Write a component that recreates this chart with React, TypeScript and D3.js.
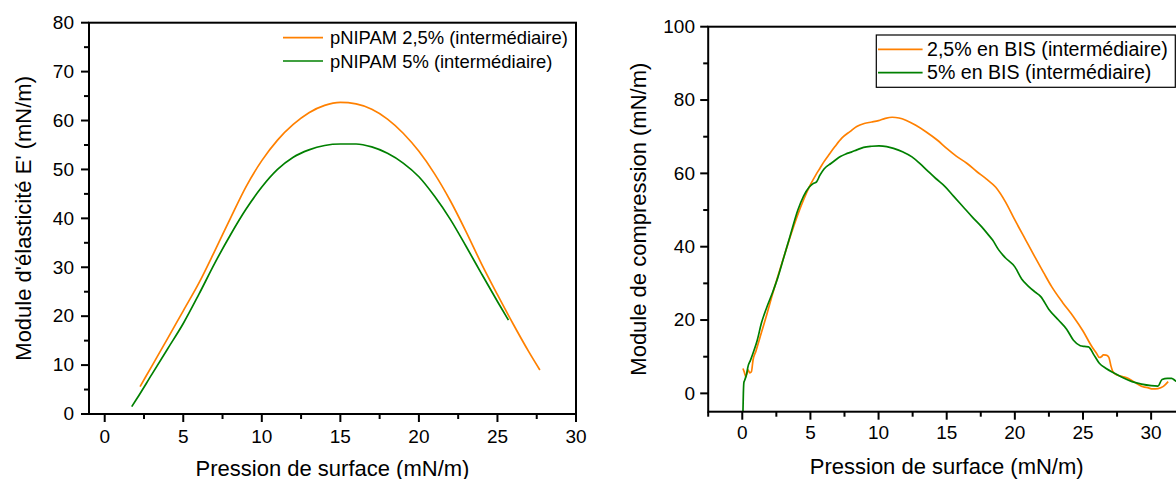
import React from "react";
import * as d3 from "d3";

// ---------- Data ----------
const leftLegend = ["pNIPAM 2,5% (intermédiaire)", "pNIPAM 5% (intermédiaire)"];
const rightLegend = ["2,5% en BIS (intermédiaire)", "5% en BIS (intermédiaire)"];

const leftXTicks = [0, 5, 10, 15, 20, 25, 30];
const leftYTicks = [0, 10, 20, 30, 40, 50, 60, 70, 80];
const rightXTicks = [0, 5, 10, 15, 20, 25, 30];
const rightYTicks = [0, 20, 40, 60, 80, 100];

// Left chart: elasticity modulus vs surface pressure
const leftOrange: [number, number][] = [
  [2.25, 5.6], [3, 9.8], [4, 15.4], [5, 21.1], [6, 26.8], [7, 33.3], [8, 40.0],
  [9, 46.5], [10, 51.8], [11, 56.0], [12, 59.2], [13, 61.6], [14, 63.1], [15, 63.7],
  [16, 63.4], [17, 62.3], [18, 60.3], [19, 57.4], [20, 53.7], [21, 49.1], [22, 43.6],
  [23, 37.3], [24, 30.6], [25, 24.4], [26, 18.4], [27, 12.7], [27.7, 9.0],
];
const leftGreen: [number, number][] = [
  [1.72, 1.5], [2, 2.9], [3, 8.1], [4, 13.3], [5, 18.5], [6, 24.5], [7, 30.8],
  [8, 36.6], [9, 41.9], [10, 46.4], [11, 50.0], [12, 52.5], [13, 54.0], [14, 54.9],
  [15, 55.2], [16, 55.2], [17, 54.6], [18, 53.3], [19, 51.3], [20, 48.5], [21, 44.5],
  [22, 39.8], [23, 34.3], [24, 28.6], [25, 23.0], [25.7, 19.2],
];

// Right chart: compression modulus vs surface pressure
const rightOrange: [number, number][] = [
  [0.05, 6.8], [0.15, 5.8], [0.26, 4.5], [0.42, 6.4], [0.55, 5.6], [0.67, 5.9],
  [0.79, 9.1], [1.0, 11.5], [1.4, 16.5], [1.8, 21.5], [2.2, 26.8], [2.6, 31.8],
  [3.1, 37.8], [3.5, 42.5], [4.0, 48.0], [4.5, 52.8], [5.0, 56.9], [5.4, 59.6],
  [5.7, 61.4], [6.0, 63.2], [6.4, 65.3], [6.8, 67.3], [7.3, 69.6], [7.9, 71.4],
  [8.4, 72.8], [8.95, 73.6], [9.5, 74.0], [10.0, 74.4], [10.5, 75.0], [11.0, 75.3],
  [11.5, 75.1], [12.0, 74.5], [12.7, 73.2], [13.5, 71.3], [14.3, 69.1], [15.0, 66.8],
  [15.7, 64.7], [16.5, 62.7], [17.2, 60.5], [17.9, 58.5], [18.6, 56.2], [19.3, 52.3],
  [20.0, 47.3], [20.8, 41.8], [21.5, 37.0], [22.1, 33.0], [22.7, 29.1], [23.5, 24.8],
  [24.3, 20.9], [25.0, 17.0], [25.66, 12.7], [26.0, 10.9], [26.2, 9.8], [26.35, 10.0],
  [26.5, 10.5], [26.7, 10.45], [26.9, 9.8], [27.05, 7.5], [27.2, 5.9], [27.5, 5.0],
  [27.9, 4.6], [28.3, 4.1], [28.8, 3.0], [29.4, 1.8], [29.8, 1.5], [30.1, 1.2],
  [30.5, 1.3], [30.9, 1.9], [31.25, 3.2],
];
const rightGreen: [number, number][] = [
  [0.05, -5], [0.08, 0], [0.12, 3.0], [0.18, 3.6], [0.33, 5.5], [0.42, 7.3],
  [0.6, 9.0], [0.87, 11.8], [1.1, 14.5], [1.4, 19.1], [1.8, 23.5], [2.2, 27.3],
  [2.6, 31.5], [3.0, 36.5], [3.5, 42.8], [4.08, 50.0], [4.5, 53.8], [4.9, 56.2],
  [5.2, 57.2], [5.45, 57.7], [5.7, 59.5], [6.0, 61.2], [6.5, 62.7], [6.79, 63.5],
  [7.2, 64.6], [7.6, 65.3], [8.0, 65.8], [8.4, 66.4], [8.9, 67.1], [9.5, 67.4],
  [10.03, 67.5], [10.6, 67.3], [11.1, 66.8], [11.8, 65.8], [12.45, 64.5], [13.0, 62.8],
  [13.54, 60.9], [14.2, 58.6], [14.88, 56.4], [15.5, 53.8], [16.2, 50.9], [16.9, 48.0],
  [17.57, 45.4], [18.0, 43.5], [18.37, 41.8], [18.8, 39.2], [19.3, 37.0], [20.0, 34.5],
  [20.5, 31.2], [21.0, 29.2], [21.5, 27.6], [21.9, 26.4], [22.5, 22.9], [23.2, 20.0],
  [23.8, 17.5], [24.3, 14.5], [24.8, 13.0], [25.1, 12.8], [25.4, 12.7], [25.8, 10.5],
  [26.2, 8.2], [26.7, 6.8], [27.3, 5.5], [27.9, 4.3], [28.6, 3.2], [29.3, 2.5],
  [30.0, 2.1], [30.5, 2.0], [30.8, 3.8], [31.2, 4.1], [31.5, 4.1], [31.8, 3.4],
  [32.2, 2.8],
];

const ORANGE = "#FF8000";
const GREEN = "#008000";
const FONT = "'Liberation Sans', Arial, sans-serif";

type ChartProps = {
  x: d3.ScaleLinear<number, number>;
  y: d3.ScaleLinear<number, number>;
  xTicks: number[];
  yTicks: number[];
  xMinorStep: number;
  yMinorStep: number;
  xTickBaseline: number;
  yLabelRight: number;
  xTitle: string;
  yTitle: string;
  xTitleBaseline: number;
  yTitleBaseline: number;
  series: { data: [number, number][]; color: string }[];
  legend: {
    labels: string[];
    x0: number;
    x1: number;
    textX: number;
    ys: number[];
    fontSize: number;
    box?: [number, number, number, number];
  };
};

function Chart(p: ChartProps) {
  const [x0, x1] = p.x.range();
  const [y0, y1] = p.y.range();
  const [xd0, xd1] = p.x.domain();
  const [yd0, yd1] = p.y.domain();
  const line = d3
    .line<[number, number]>()
    .x((d) => p.x(d[0]))
    .y((d) => p.y(d[1]))
    .curve(d3.curveMonotoneX);

  const xMinor = d3
    .range(Math.ceil(xd0 / p.xMinorStep) * p.xMinorStep, xd1 + 1e-9, p.xMinorStep)
    .filter((v) => !p.xTicks.some((t) => Math.abs(t - v) < 1e-9));
  const yMinor = d3
    .range(Math.ceil(yd0 / p.yMinorStep) * p.yMinorStep, yd1 + 1e-9, p.yMinorStep)
    .filter((v) => !p.yTicks.some((t) => Math.abs(t - v) < 1e-9));

  const clipId = "clip" + Math.round(x0);

  return (
    <g fontFamily={FONT} fill="#000">
      <defs>
        <clipPath id={clipId}>
          <rect x={x0} y={y1} width={x1 - x0} height={y0 - y1} />
        </clipPath>
      </defs>
      <g clipPath={`url(#${clipId})`}>
        {p.series.map((s, i) => (
          <path key={i} d={line(s.data) || ""} fill="none" stroke={s.color} strokeWidth={1.7} strokeLinejoin="round" />
        ))}
      </g>
      <rect x={x0} y={y1} width={x1 - x0} height={y0 - y1} fill="none" stroke="#000" strokeWidth={2} />
      {p.xTicks.map((t) => (
        <g key={"xt" + t}>
          <line x1={p.x(t)} x2={p.x(t)} y1={y0} y2={y0 + 8} stroke="#000" strokeWidth={2} />
          <text x={p.x(t)} y={p.xTickBaseline} fontSize={19} textAnchor="middle">{t}</text>
        </g>
      ))}
      {xMinor.map((t) => (
        <line key={"xm" + t} x1={p.x(t)} x2={p.x(t)} y1={y0} y2={y0 + 5} stroke="#000" strokeWidth={2} />
      ))}
      {p.yTicks.map((t) => (
        <g key={"yt" + t}>
          <line x1={x0 - 8} x2={x0} y1={p.y(t)} y2={p.y(t)} stroke="#000" strokeWidth={2} />
          <text x={p.yLabelRight} y={p.y(t)} dy="0.33em" fontSize={19} textAnchor="end">{t}</text>
        </g>
      ))}
      {yMinor.map((t) => (
        <line key={"ym" + t} x1={x0 - 5} x2={x0} y1={p.y(t)} y2={p.y(t)} stroke="#000" strokeWidth={2} />
      ))}
      <text x={(x0 + x1) / 2} y={p.xTitleBaseline} fontSize={22} textAnchor="middle">{p.xTitle}</text>
      <text
        transform={`translate(${p.yTitleBaseline},${(y0 + y1) / 2}) rotate(-90)`}
        fontSize={22}
        textAnchor="middle"
      >
        {p.yTitle}
      </text>
      {p.legend.box && (
        <rect
          x={p.legend.box[0]}
          y={p.legend.box[1]}
          width={p.legend.box[2]}
          height={p.legend.box[3]}
          fill="#fff"
          stroke="#000"
          strokeWidth={1.2}
        />
      )}
      {p.legend.labels.map((lab, i) => (
        <g key={"lg" + i}>
          <line
            x1={p.legend.x0}
            x2={p.legend.x1}
            y1={p.legend.ys[i]}
            y2={p.legend.ys[i]}
            stroke={p.series[i].color}
            strokeWidth={1.7}
          />
          <text x={p.legend.textX} y={p.legend.ys[i] + 6.5} fontSize={p.legend.fontSize}>{lab}</text>
        </g>
      ))}
    </g>
  );
}

export default function App() {
  const leftX = d3.scaleLinear().domain([-1, 30]).range([89, 576]);
  const leftY = d3.scaleLinear().domain([0, 80]).range([414, 22.7]);
  const rightX = d3.scaleLinear().domain([-2.5, 32.5]).range([708.2, 1185.2]);
  const rightY = d3.scaleLinear().domain([-5, 100]).range([411.7, 26.7]);

  return (
    <svg
      width={1176}
      height={479}
      style={{ position: "absolute", left: 0, top: 0, background: "#fff" }}
    >
      <rect x={0} y={0} width={1176} height={479} fill="#fff" />
      <Chart
        x={leftX}
        y={leftY}
        xTicks={leftXTicks}
        yTicks={leftYTicks}
        xMinorStep={2.5}
        yMinorStep={5}
        xTickBaseline={443}
        yLabelRight={74}
        xTitle="Pression de surface (mN/m)"
        yTitle="Module d'élasticité E' (mN/m)"
        xTitleBaseline={476}
        yTitleBaseline={31}
        series={[
          { data: leftOrange, color: ORANGE },
          { data: leftGreen, color: GREEN },
        ]}
        legend={{
          labels: leftLegend,
          x0: 283,
          x1: 323,
          textX: 330,
          ys: [37.7, 61],
          fontSize: 18.4,
        }}
      />
      <Chart
        x={rightX}
        y={rightY}
        xTicks={rightXTicks}
        yTicks={rightYTicks}
        xMinorStep={2.5}
        yMinorStep={10}
        xTickBaseline={438.5}
        yLabelRight={695}
        xTitle="Pression de surface (mN/m)"
        yTitle="Module de compression (mN/m)"
        xTitleBaseline={473.5}
        yTitleBaseline={646}
        series={[
          { data: rightOrange, color: ORANGE },
          { data: rightGreen, color: GREEN },
        ]}
        legend={{
          labels: rightLegend,
          x0: 878,
          x1: 922.6,
          textX: 927,
          ys: [49.3, 72.7],
          fontSize: 19.6,
          box: [876.3, 35, 299, 52.3],
        }}
      />
    </svg>
  );
}
